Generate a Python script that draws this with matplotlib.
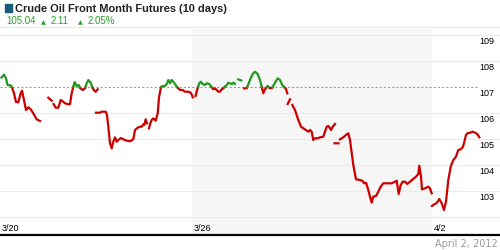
import numpy as np
import matplotlib
matplotlib.use("Agg")
import matplotlib.pyplot as plt
from matplotlib.patches import Rectangle
from matplotlib.transforms import offset_copy, blended_transform_factory

# ---- data -------------------------------------------------------------
# time axis: half-hour slots since the 3/20 session open (48 slots per day); None = gap
time_slot = [1.5, 4, 6, 7.3, 8, 10.7, 12, 14, 16, 18.3, 20.7, 22, 24, 26, 28.3, 30.7, 33.3, 36.7, 40, None,
             48.3, 51.7, None,
             53.5, 55.7, 58.3, 60.7, 62.7, 65, 68.3, 70, 71.7, 73.3, 74.7, 76.7, 78.7, 80, 82.7, 85, 86.7, 88.3,
             90.7, 92.3, 94.3, 95.7, 97.7, None,
             96, 100, None,
             101.7, 105.7, 107, 108.3, 110, 111.7, 113.3, 115, 116.7, 118.3, 121, 123.3, 126.7, 130, 133.3, 135,
             137.7, 140, 141.7, 143.3, 144.3, 145.7, 147, None,
             149, 150.3, 151.7, 153.3, 155.7, 157.7, 159, 161, 162.7, 165, 166.7, 168.3, 170, 171.7, 173.3, 175,
             176.7, 178.3, 180, 182.7, 185, 188.3, 190.7, 192, 192.7, None,
             195.5, 197.3, 199.3, 200.7, 202.7, 204.7, 206.7, 209.3, 211.3, 213.3, 215, 216.7, 218.3, 220, 221.7,
             223.3, 225, 226.7, 228.3, 230, 231.7, 233.3, 235, None,
             238.3, 241.3, None,
             244, 246.7, 248.7, 250.7, 252.7, 255, 257.7, 260, 261.7, 263.3, 265, 267.7, 270, 272.3, 275, 277.7,
             280, 282.3, 284.3, 285.7, 287.3, None,
             287.7, 290, None,
             292.3, 295, 298.3, 301, 303.3, 305.7, 308.3, 310, 311.7, 313.3, 315, 317.7, 320, 323.3, 325, 326.7,
             328.3, 330, 331, 332.7, 335, None,
             334.5, 338.5, None,
             340, 343.3, 346.7, 348.3, 350, 353.3, 356, 360, 362.7, 364, 366, 368.3, 370, 371.7, 373.3, 376, 378.3,
             380.7, 383.3, 386, 388.3, 391.7, 395, 396.7, 398.7, 400.7, 402.7, 405, 407.3, 410, 412.7, 416, 418.3,
             419.3, 421, 422, 425, 428.3, 430, 431.7, None,
             432, 434, 436.7, 439.3, 441.7, 444, 446, 448.3, 450.7, 453.3, 456, 458.3, 460.7, 462.7, 464, 466,
             467.3, 470, 472.7, 475, 477.3, 479.3]

price = [107.365, 107.473, 107.335, 107.115, 107.065, 107.065, 106.988, 106.758, 106.423, 106.412, 106.758,
         106.858, 106.5, 106.115, 106.219, 106.142, 105.988, 105.758, 105.692, None,
         106.588, 106.473, None,
         106.346, 106.204, 106.204, 106.5, 106.45, 106.373, 106.335, 106.346, 106.758, 107.012, 107.192, 107.038,
         107.077, 106.962, 106.885, 106.95, 107.142, 107.269, 107.165, 106.988, 106.858, 106.819, 106.912, None,
         106.012, 106.012, None,
         106.05, 106.05, 105.923, 105.473, 104.835, 104.642, 104.896, 105.065, 104.896, 104.962, 105.038, 104.988,
         104.935, 104.912, 104.988, 105.346, 105.435, 105.473, 105.473, 105.565, 105.538, 105.758, 105.604, None,
         105.412, 105.604, 105.731, 105.796, 105.704, 105.988, 106.604, 106.988, 107.038, 107.038, 107.115,
         107.269, 107.142, 107.269, 107.204, 107.115, 107.012, 106.95, 106.885, 106.885, 106.819, 106.819,
         106.781, 106.692, 106.604, None,
         106.654, 106.912, 107.142, 107.204, 107.115, 107.077, 107.142, 107.115, 107.012, 106.912, 106.95,
         106.885, 106.819, 106.819, 106.912, 106.95, 107.012, 107.077, 107.165, 107.142, 107.115, 107.165,
         107.115, None,
         107.292, 107.254, None,
         106.95, 106.95, 107.142, 107.335, 107.5, 107.588, 107.5, 107.269, 107.012, 106.758, 106.912, 107.038,
         106.95, 106.973, 107.165, 107.335, 107.269, 107.077, 106.988, 106.95, 106.758, None,
         106.346, 106.527, None,
         106.308, 106.115, 105.731, 105.473, 105.412, 105.346, 105.281, 105.346, 105.281, 104.962, 105.027,
         105.027, 105.065, 105.088, 105.281, 105.473, 105.5, 105.412, 105.346, 105.473, 105.577, None,
         104.835, 104.835, None,
         104.988, 105.065, 105.181, 105.219, 104.962, 104.0, 103.45, 103.423, 103.385, 103.296, 103.319, 103.038,
         102.781, 102.55, 102.781, 102.808, 102.973, 103.165, 103.296, 103.296, 103.296, 103.296, 103.358,
         103.396, 102.885, 103.231, 103.358, 103.358, 103.269, 103.358, 103.45, 103.55, 103.654, 103.973,
         103.55, 103.065, 103.104, 103.165, 103.104, 102.912, None,
         102.423, 102.481, 102.538, 102.692, 102.527, 102.269, 102.588, 103.423, 103.935, 104.192, 104.319,
         104.577, 104.604, 104.681, 104.835, 105.154, 105.219, 105.242, 105.281, 105.242, 105.192, 105.065]

ref_price = 107.0
grid_prices = [102, 103, 104, 105, 106, 108, 109]
label_prices = [103, 104, 105, 106, 107, 108, 109]
day_ticks = [0, 192, 432]          # session starts (slot index)
day_labels = ["3/20", "3/26", "4/2"]
shade_week = (192, 432)
title = "Crude Oil Front Month Futures (10 days)"
last_txt, chg_txt, pct_txt = "105.04", "2.11", "2.05%"
date_txt = "April 2, 2012"

# ---- figure -----------------------------------------------------------
W, H = 500, 250
fig = plt.figure(figsize=(5, 2.5), dpi=100)
fig.patch.set_facecolor("white")
ax = fig.add_axes([0, 1 - 235 / H, 1, (235 - 29) / H])
ax.set_xlim(0, 500)
ax.set_ylim(101.308, 109.231)
for s in ["top", "left", "right"]:
    ax.spines[s].set_visible(False)
ax.spines["bottom"].set_color("black")
ax.spines["bottom"].set_linewidth(1.6)
ax.set_xticks([])
ax.set_yticks([])

ax.axvspan(shade_week[0], shade_week[1], color="#f6f6f6", lw=0, zorder=0)
for g in grid_prices:
    ax.axhline(g, color="#ebebeb", lw=0.8, zorder=1)
ax.hlines(ref_price, 0, 478, colors="#9a9a9a", lw=0.75, linestyles=(0, (2, 2)), zorder=2)

# split into above / below reference
x = np.array(time_slot, dtype=float)
y = np.array(price, dtype=float)
xs, ys = [], []
for i in range(len(x)):
    xs.append(x[i]); ys.append(y[i])
    if i < len(x) - 1 and np.isfinite(y[i]) and np.isfinite(y[i + 1]):
        if (y[i] - ref_price) * (y[i + 1] - ref_price) < 0:
            t = (ref_price - y[i]) / (y[i + 1] - y[i])
            xs.append(x[i] + t * (x[i + 1] - x[i])); ys.append(ref_price)
xs = np.array(xs); ys = np.array(ys)
up = np.where(ys >= ref_price - 1e-9, ys, np.nan)
dn = np.where(ys <= ref_price + 1e-9, ys, np.nan)
ax.plot(xs, dn, color="#cc0000", lw=1.6, solid_joinstyle="round", zorder=3)
ax.plot(xs, up, color="#1e9a1e", lw=1.6, solid_joinstyle="round", zorder=3)

lab_font = dict(family=["Liberation Sans", "DejaVu Sans"], size=6.5, color="black")
ytr = offset_copy(ax.transData, fig=fig, x=0, y=-9, units="dots")
for v in label_prices:
    ax.text(494, v, f"{v}", transform=ytr, ha="right", va="baseline", **lab_font)
xtr = offset_copy(blended_transform_factory(ax.transData, ax.transAxes), fig=fig, x=2, y=4, units="dots")
for d, lab in zip(day_ticks, day_labels):
    ax.text(d, 0, lab, transform=xtr, ha="left", va="baseline", **lab_font)

# header
fig.add_artist(plt.Line2D([0, 1], [1 - 27 / H, 1 - 27 / H], color="#e8e8e8", lw=0.8, transform=fig.transFigure))
fig.add_artist(Rectangle((5 / W, 1 - 11.7 / H), 7 / W, 7.4 / H, color="#1b5e7b", transform=fig.transFigure))
fig.text(15 / W, 1 - 11.7 / H, title, family="Liberation Sans", weight="bold", size=7.9,
         color="#222222", va="baseline", ha="left")
green = "#2aa02a"
fig.text(6 / W, 1 - 24 / H, last_txt, family="Liberation Sans", size=7, color=green, va="baseline")
fig.text(40.5 / W, 1 - 24 / H, "\u25B2", family="DejaVu Sans", size=4.6, color=green, va="baseline")
fig.text(50.5 / W, 1 - 24 / H, chg_txt, family="Liberation Sans", size=7, color=green, va="baseline")
fig.text(77.5 / W, 1 - 24 / H, "\u25B2", family="DejaVu Sans", size=4.6, color=green, va="baseline")
fig.text(87.5 / W, 1 - 24 / H, pct_txt, family="Liberation Sans", size=7, color=green, va="baseline")
fig.text(497.5 / W, 1 - 247 / H, date_txt, family="DejaVu Sans", size=7, color="#9a9a9a",
         va="baseline", ha="right")

fig.savefig("out.png", dpi=100, facecolor="white")
